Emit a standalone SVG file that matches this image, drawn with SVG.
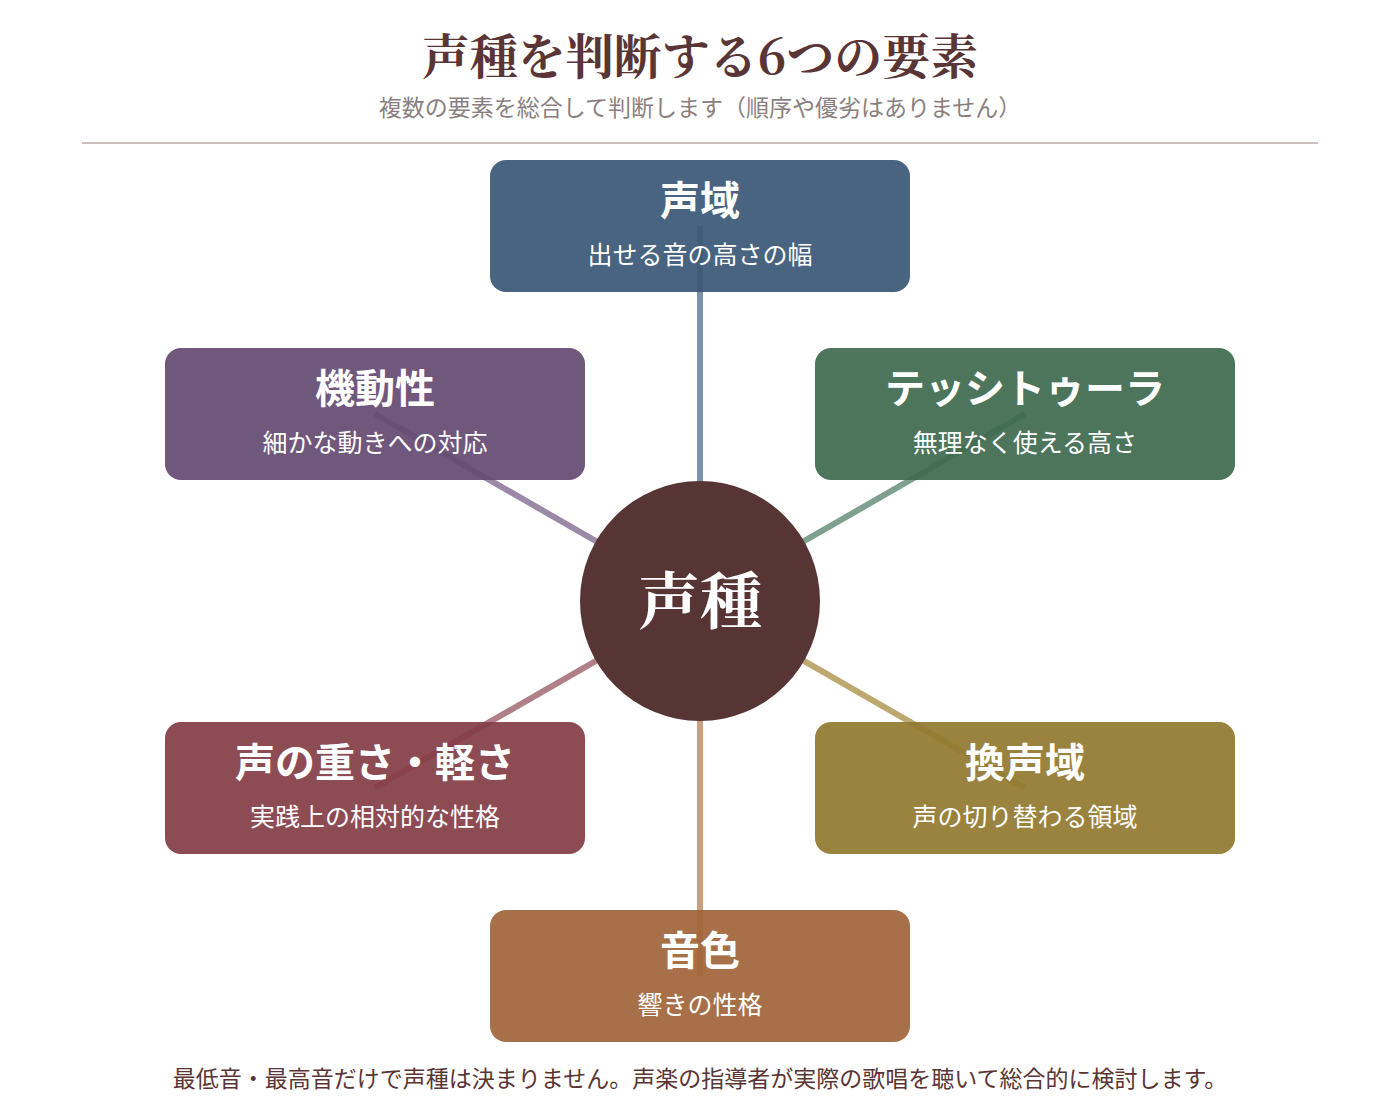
<svg xmlns="http://www.w3.org/2000/svg" width="1400" height="1112" viewBox="0 0 1400 1112">
<style>
.t{font-family:"Noto Sans CJK JP","Noto Sans",sans-serif;fill:#fff;text-anchor:middle}
.h{font-size:40px;font-weight:700}
.s{font-size:25px}
.box{fill-opacity:0.93}
.c line{stroke-width:6}
</style>
<rect width="1400" height="1112" fill="#fff"/>
<text x="700" y="74" text-anchor="middle" font-family="'Noto Serif CJK JP','Noto Sans CJK JP',serif" font-weight="700" font-size="48" fill="#5a3535">声種を判断する6つの要素</text>
<text x="700" y="116" text-anchor="middle" font-family="'Noto Sans CJK JP',sans-serif" font-size="23" fill="#8a7f7f">複数の要素を総合して判断します（順序や優劣はありません）</text>
<line x1="82" y1="143" x2="1318" y2="143" stroke="#ccc0c0" stroke-width="2"/>
<g class="c" id="connectors">
<line x1="700" y1="601" x2="700" y2="226" stroke="#7a93aa"/>
<line x1="700" y1="601" x2="375" y2="414" stroke="#9c89a8"/>
<line x1="700" y1="601" x2="1025" y2="414" stroke="#7fa08e"/>
<line x1="700" y1="601" x2="375" y2="788" stroke="#b08088"/>
<line x1="700" y1="601" x2="1025" y2="788" stroke="#bda870"/>
<line x1="700" y1="601" x2="700" y2="976" stroke="#c8a080"/>
</g>
<g id="n1"><rect class="box" x="490" y="160" width="420" height="132" rx="16" fill="#3b5876"/><text class="t h" x="700" y="215">声域</text><text class="t s" x="700" y="264">出せる音の高さの幅</text></g>
<g id="n2"><rect class="box" x="165" y="348" width="420" height="132" rx="16" fill="#654a72"/><text class="t h" x="375" y="403">機動性</text><text class="t s" x="375" y="452">細かな動きへの対応</text></g>
<g id="n3"><rect class="box" x="815" y="348" width="420" height="132" rx="16" fill="#3e6a50"/><text class="t h" x="1025" y="403">テッシトゥーラ</text><text class="t s" x="1025" y="452">無理なく使える高さ</text></g>
<g id="n4"><rect class="box" x="165" y="722" width="420" height="132" rx="16" fill="#843d47"/><text class="t h" x="375" y="777">声の重さ・軽さ</text><text class="t s" x="375" y="826">実践上の相対的な性格</text></g>
<g id="n5"><rect class="box" x="815" y="722" width="420" height="132" rx="16" fill="#917a30"/><text class="t h" x="1025" y="777">換声域</text><text class="t s" x="1025" y="826">声の切り替わる領域</text></g>
<g id="n6"><rect class="box" x="490" y="910" width="420" height="132" rx="16" fill="#a0653a"/><text class="t h" x="700" y="965">音色</text><text class="t s" x="700" y="1014">響きの性格</text></g>
<g id="center"><circle cx="700" cy="601" r="120" fill="#573535"/><text x="700" y="624" text-anchor="middle" font-family="'Noto Serif CJK JP','Noto Sans CJK JP',serif" font-weight="700" font-size="62" fill="#fff">声種</text></g>
<text x="700" y="1087" text-anchor="middle" font-family="'Noto Sans CJK JP',sans-serif" font-size="23" fill="#5a3535">最低音・最高音だけで声種は決まりません。声楽の指導者が実際の歌唱を聴いて総合的に検討します。</text>
</svg>
